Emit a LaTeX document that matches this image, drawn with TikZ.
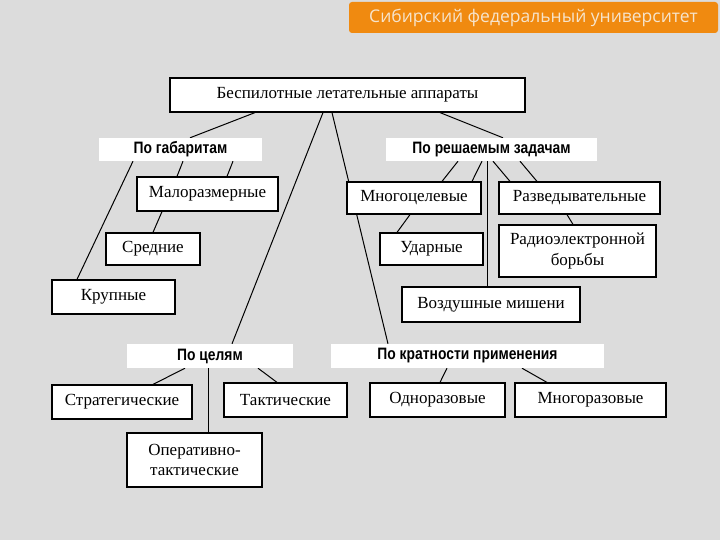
\documentclass[tikz,border=0pt]{standalone}
\usepackage{fontspec}
\setmainfont{Liberation Serif}
\newfontfamily\labelfont[FakeStretch=0.84]{Liberation Sans}
\newfontfamily\titlefont{Open Sans}
\usetikzlibrary{backgrounds, shadows}
\definecolor{slidegray}{HTML}{DCDCDC}
\definecolor{sfuorange}{HTML}{F08A10}
\definecolor{sfutext}{HTML}{F6E4CC}

\begin{document}
\begin{tikzpicture}[x=1pt, y=-1pt, thick,
    box/.style={draw, fill=white, line width=1.2pt, inner sep=0pt, align=center,
                font=\fontsize{17}{20.5}\selectfont,
                drop shadow={shadow xshift=1.2pt, shadow yshift=-1.2pt, fill=gray!70, opacity=1}},
    group/.style={fill=white, inner sep=0pt, font=\labelfont\bfseries\fontsize{16.5}{18}\selectfont},
    link/.style={line width=1pt}]
    \useasboundingbox (0,0) rectangle (720,540);

    % Fondo
    \begin{pgfonlayer}{background}
        \fill[slidegray] (0,0) rectangle (720,540);
    \end{pgfonlayer}
    \node[fill=sfuorange, rounded corners=3pt, minimum width=369pt, minimum height=31pt,
          text=sfutext, font=\titlefont\fontsize{17.5}{20}\selectfont] (sfu) at (533.5,17.5)
          {Сибирский федеральный университет};

    % Nodos
    \node[box, minimum width=355pt, minimum height=34pt] (bpla) at (347.5,95) {Беспилотные летательные аппараты};
    \node[group, minimum width=163pt, minimum height=23pt] (gab) at (180.5,149.5) {По габаритам};
    \node[group, minimum width=211pt, minimum height=23pt] (zad) at (491.5,149.5) {По решаемым задачам};
    \node[box, minimum width=141pt, minimum height=34pt] (malo) at (207.5,194) {Малоразмерные};
    \node[box, minimum width=94pt, minimum height=32pt] (sred) at (153,249) {Средние};
    \node[box, minimum width=123pt, minimum height=34pt] (krup) at (113.5,297) {Крупные};
    \node[box, minimum width=134pt, minimum height=32pt] (mnog) at (414,198) {Многоцелевые};
    \node[box, minimum width=161pt, minimum height=32pt] (razv) at (579.5,198) {Разведывательные};
    \node[box, minimum width=103pt, minimum height=32pt] (udar) at (431.5,249) {Ударные};
    \node[box, minimum width=157pt, minimum height=52pt] (reb) at (577.5,251) {Радиоэлектронной\\борьбы};
    \node[box, minimum width=178pt, minimum height=35pt] (mish) at (491,304.5) {Воздушные мишени};
    \node[group, minimum width=166pt, minimum height=24pt] (cel) at (210,356) {По целям};
    \node[group, minimum width=273pt, minimum height=24pt] (krat) at (467.5,356) {По кратности применения};
    \node[box, minimum width=140pt, minimum height=34pt] (strat) at (122,402) {Стратегические};
    \node[box, minimum width=123pt, minimum height=34pt] (takt) at (285.5,400) {Тактические};
    \node[box, minimum width=135pt, minimum height=54pt] (oper) at (194.5,460) {Оперативно-\\тактические};
    \node[box, minimum width=135pt, minimum height=34pt] (odno) at (437.5,400) {Одноразовые};
    \node[box, minimum width=151pt, minimum height=34pt] (mnraz) at (590.5,400) {Многоразовые};

    % Aristas
    \begin{pgfonlayer}{background}
        \draw[link] ([xshift=-92.5pt]bpla.south) -- ([xshift=9.5pt]gab.north);
        \draw[link] ([xshift=92.5pt]bpla.south) -- ([xshift=11.5pt]zad.north);
        \draw[link] ([xshift=-24.5pt]bpla.south) -- ([xshift=22pt]cel.north);
        \draw[link] ([xshift=-15.5pt]bpla.south) -- ([xshift=-79.5pt]krat.north);
        \draw[link] ([xshift=-47.5pt]gab.south) -- ([xshift=-36.5pt]krup.north);
        \draw[link] ([xshift=2.5pt]gab.south) -- ([xshift=-30.5pt]malo.north);
        \draw[link] ([xshift=52.5pt]gab.south) -- ([xshift=19.5pt]malo.north);
        \draw[link] ([xshift=-45.5pt]malo.south) -- (sred.north);
        \draw[link] ([xshift=-33.5pt]zad.south) -- ([xshift=28pt]mnog.north);
        \draw[link] ([xshift=-9.5pt]zad.south) -- ([xshift=58pt]mnog.north);
        \draw[link] ([xshift=-4.5pt]zad.south) -- ([xshift=-4pt]mish.north);
        \draw[link] ([xshift=1.5pt]zad.south) -- ([xshift=-69.5pt]razv.north);
        \draw[link] ([xshift=28.5pt]zad.south) -- ([xshift=-42.5pt]razv.north);
        \draw[link] ([xshift=-4pt]mnog.south) -- ([xshift=-34.5pt]udar.north);
        \draw[link] ([xshift=-12.5pt]razv.south) -- ([xshift=-4.5pt]reb.north);
        \draw[link] ([xshift=-25pt]cel.south) -- ([xshift=31pt]strat.north);
        \draw[link] ([xshift=48pt]cel.south) -- ([xshift=-8.5pt]takt.north);
        \draw[link] ([xshift=-2pt]cel.south) -- ([xshift=13.5pt]oper.north);
        \draw[link] ([xshift=-20.5pt]krat.south) -- ([xshift=2.5pt]odno.north);
        \draw[link] ([xshift=54.5pt]krat.south) -- ([xshift=-43.5pt]mnraz.north);
    \end{pgfonlayer}
\end{tikzpicture}
\end{document}
